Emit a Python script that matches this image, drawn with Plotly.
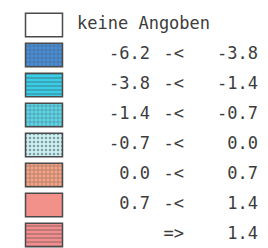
import plotly.graph_objects as go

# Legend data
lows = ["", "-6.2", "-3.8", "-1.4", "-0.7", "0.0", "0.7", ""]
ops = ["", "-<", "-<", "-<", "-<", "-<", "-<", "=>"]
highs = ["", "-3.8", "-1.4", "-0.7", "0.0", "0.7", "1.4", "1.4"]
first_label = "keine Angoben"
fill_colors = ["#ffffff", "#4a90d8", "#38cde8", "#5cd6ea", "#c8f0f4", "#f6a486", "#f2918a", "#f48e8e"]
pattern_shapes = ["", "+", "-", "+", ".", "+", "", "-"]
pattern_fg = ["#ffffff", "#34a4dc", "#60d8ee", "#e4f8fb", "#30c4d8", "#f8d0a0", "#f2918a", "#f6a8a4"]

rows = list(range(len(lows)))

fig = go.Figure()

# swatches as horizontal bars
fig.add_trace(go.Bar(
    y=rows, x=[37] * len(rows), base=[25.5] * len(rows), orientation="h",
    width=0.78,
    marker=dict(
        color=fill_colors,
        line=dict(color="#4a4a4a", width=1.5),
        pattern=dict(shape=pattern_shapes, fgcolor=pattern_fg, size=4, solidity=0.3, fillmode="overlay"),
    ),
    hoverinfo="skip", showlegend=False,
))

font = dict(family="DejaVu Sans Mono", size=17, color="#3c3c3c")

fig.add_trace(go.Scatter(x=[77], y=[0], mode="text", text=[first_label],
                         textposition="middle right", textfont=font, showlegend=False, hoverinfo="skip"))
fig.add_trace(go.Scatter(x=[150] * 7, y=rows[1:], mode="text", text=lows[1:],
                         textposition="middle left", textfont=font, showlegend=False, hoverinfo="skip"))
fig.add_trace(go.Scatter(x=[184] * 7, y=rows[1:], mode="text", text=ops[1:],
                         textposition="middle left", textfont=font, showlegend=False, hoverinfo="skip"))
fig.add_trace(go.Scatter(x=[258] * 7, y=rows[1:], mode="text", text=highs[1:],
                         textposition="middle left", textfont=font, showlegend=False, hoverinfo="skip"))

fig.update_layout(
    width=268, height=248,
    margin=dict(l=0, r=0, t=0, b=0),
    paper_bgcolor="white", plot_bgcolor="white",
    xaxis=dict(range=[0, 268], visible=False, fixedrange=True),
    yaxis=dict(range=[7.433, -0.833], visible=False, fixedrange=True),
    bargap=0,
)

fig.write_html("out.html", config={"displayModeBar": False, "staticPlot": True},
               post_script="document.body.style.margin='0';document.body.style.overflow='hidden';")
